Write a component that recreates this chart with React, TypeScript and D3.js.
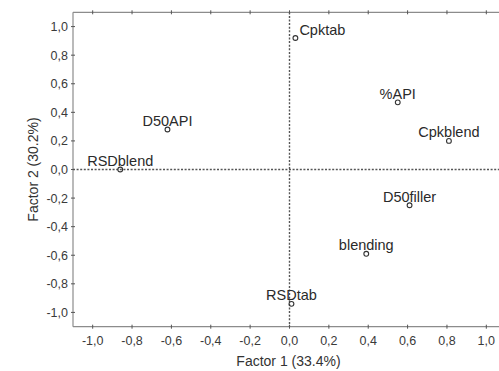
import React from "react";
import * as d3 from "d3";

// Factor loadings (Factor 1, Factor 2) per variable
const variables = ["Cpktab", "%API", "Cpkblend", "D50API", "RSDblend", "D50filler", "blending", "RSDtab"];
const factor1 = [0.03, 0.55, 0.81, -0.62, -0.86, 0.61, 0.39, 0.01];
const factor2 = [0.92, 0.47, 0.20, 0.28, 0.0, -0.25, -0.59, -0.94];

const tickValues = [-1.0, -0.8, -0.6, -0.4, -0.2, 0.0, 0.2, 0.4, 0.6, 0.8, 1.0];
const xTitle = "Factor 1 (33.4%)";
const yTitle = "Factor 2 (30.2%)";

// labels that sit to the right of their marker instead of centred above it
const rightLabels = new Set(["Cpktab"]);

const W = 499;
const H = 371;
const FONT = "Liberation Sans, Arial, Helvetica, sans-serif";

export default function App() {
  const x = d3.scaleLinear().domain([-1.1, 1.1]).range([73, 506]);
  const y = d3.scaleLinear().domain([-1.1, 1.1]).range([326.7, 12.3]);
  const fmt = (v: number) => d3.format(".1f")(v).replace(".", ",").replace("−", "-");

  const [x0, x1] = x.range();
  const [y0, y1] = y.range();
  const axisColor = "#8c8c8c";
  const tickColor = "#555";

  return (
    <svg
      width={W}
      height={H}
      style={{ position: "absolute", left: 0, top: 0, background: "#fff" }}
      fontFamily={FONT}
    >
      <rect width={W} height={H} fill="#fff" />
      {/* frame */}
      <line x1={x0} x2={x1} y1={y1} y2={y1} stroke={axisColor} strokeWidth={1.2} />
      <line x1={x0} x2={x1} y1={y0} y2={y0} stroke={axisColor} strokeWidth={1.2} />
      <line x1={x0} x2={x0} y1={y1} y2={y0} stroke={axisColor} strokeWidth={1.2} />
      <line x1={x1} x2={x1} y1={y1} y2={y0} stroke={axisColor} strokeWidth={1.2} />

      {/* zero reference lines */}
      <line x1={x(0)} x2={x(0)} y1={y1} y2={y0} stroke="#555" strokeWidth={1.4} strokeDasharray="2 1.6" />
      <line x1={x0} x2={x1} y1={y(0)} y2={y(0)} stroke="#555" strokeWidth={1.4} strokeDasharray="2 1.6" />

      {/* ticks */}
      {tickValues.map((t) => (
        <g key={"xt" + t}>
          <line x1={x(t)} x2={x(t)} y1={y0 - 2} y2={y0 + 2} stroke={tickColor} strokeWidth={1} />
          <line x1={x(t)} x2={x(t)} y1={y1 - 2} y2={y1 + 2} stroke={tickColor} strokeWidth={1} />
          <text x={x(t)} y={y0 + 18} textAnchor="middle" fontSize={12.5} fill="#3a3a3a">
            {fmt(t)}
          </text>
        </g>
      ))}
      {tickValues.map((t) => (
        <g key={"yt" + t}>
          <line x1={x0 - 2} x2={x0 + 2} y1={y(t)} y2={y(t)} stroke={tickColor} strokeWidth={1} />
          <text x={x0 - 5} y={y(t) + 4.5} textAnchor="end" fontSize={12.5} fill="#3a3a3a">
            {fmt(t)}
          </text>
        </g>
      ))}

      {/* axis titles */}
      <text x={(x0 + x1) / 2 - 1} y={366} textAnchor="middle" fontSize={14} fill="#333">
        {xTitle}
      </text>
      <text
        transform={`translate(37.5, ${(y0 + y1) / 2}) rotate(-90)`}
        textAnchor="middle"
        fontSize={14}
        fill="#333"
      >
        {yTitle}
      </text>

      {/* points and labels */}
      {variables.map((name, i) => {
        const px = x(factor1[i]);
        const py = y(factor2[i]);
        const right = rightLabels.has(name);
        return (
          <g key={name}>
            <circle cx={px} cy={py} r={2.4} fill="none" stroke="#333" strokeWidth={1.1} />
            <text
              x={right ? px + 4 : px}
              y={py - 3.5}
              textAnchor={right ? "start" : "middle"}
              fontSize={14.5}
              fill="#2a2a2a"
            >
              {name}
            </text>
          </g>
        );
      })}
    </svg>
  );
}
